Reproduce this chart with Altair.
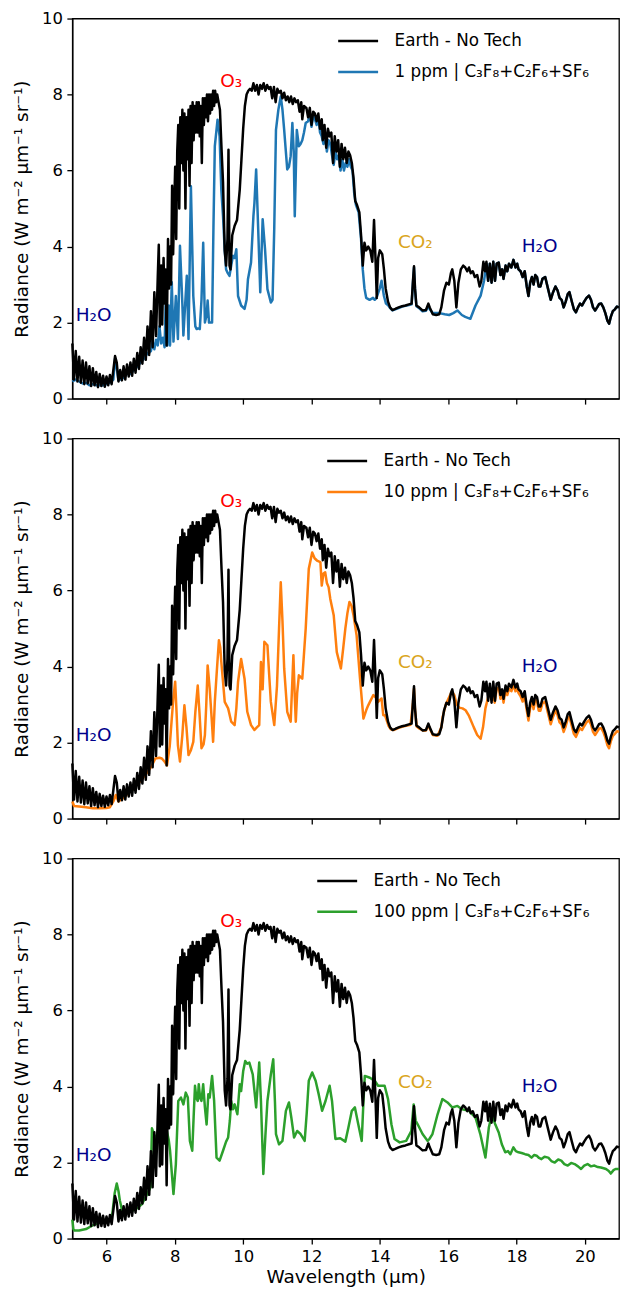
import altair as alt
import pandas as pd

# ---------------- data ----------------
earth_label = "Earth - No Tech"
tech_labels = ["1 ppm | C₃F₈+C₂F₆+SF₆", "10 ppm | C₃F₈+C₂F₆+SF₆", "100 ppm | C₃F₈+C₂F₆+SF₆"]
tech_colors = ["#1f77b4", "#ff7f0e", "#2ca02c"]
legend_x = [265, 254, 244]

earth_wl = [5.00, 5.05, 5.10, 5.15, 5.20, 5.25, 5.30, 5.35, 5.40, 5.45, 5.50, 5.55, 5.60, 5.65, 5.70, 5.75,
            5.80, 5.85, 5.90, 5.95, 6.00, 6.05, 6.10, 6.15, 6.20, 6.25, 6.30, 6.35, 6.40, 6.45, 6.50, 6.55,
            6.60, 6.65, 6.70, 6.75, 6.80, 6.85, 6.90, 6.95, 7.00, 7.05, 7.10, 7.15, 7.20, 7.25, 7.30, 7.35,
            7.40, 7.45, 7.50, 7.53, 7.56, 7.60, 7.63, 7.67, 7.70, 7.73, 7.76, 7.80, 7.83, 7.86, 7.89, 7.92,
            7.95, 7.98, 8.01, 8.04, 8.07, 8.10, 8.13, 8.16, 8.19, 8.22, 8.25, 8.28, 8.31, 8.34, 8.37, 8.40,
            8.43, 8.46, 8.49, 8.52, 8.55, 8.58, 8.61, 8.64, 8.67, 8.70, 8.73, 8.76, 8.79, 8.82, 8.85, 8.88,
            8.91, 8.94, 8.97, 9.00, 9.03, 9.06, 9.09, 9.12, 9.15, 9.18, 9.21, 9.24, 9.28, 9.32, 9.37, 9.41,
            9.46, 9.50, 9.54, 9.57, 9.60, 9.63, 9.68, 9.75, 9.82, 9.90, 9.95, 10.00, 10.05, 10.10, 10.15,
            10.20, 10.25, 10.30, 10.35, 10.40, 10.45, 10.50, 10.55, 10.60, 10.65, 10.70, 10.75, 10.80, 10.85,
            10.90, 10.95, 11.00, 11.05, 11.10, 11.15, 11.20, 11.25, 11.30, 11.35, 11.40, 11.45, 11.50, 11.55,
            11.60, 11.65, 11.70, 11.73, 11.78, 11.85, 11.90, 11.95, 12.00, 12.05, 12.10, 12.15, 12.20, 12.25,
            12.30, 12.33, 12.38, 12.43, 12.48, 12.53, 12.58, 12.63, 12.68, 12.73, 12.78, 12.83, 12.88, 12.93,
            12.98, 13.03, 13.08, 13.13, 13.18, 13.23, 13.28, 13.33, 13.40, 13.45, 13.50, 13.55, 13.60, 13.66,
            13.72, 13.78, 13.83, 13.88, 13.91, 13.95, 14.00, 14.07, 14.12, 14.17, 14.24, 14.30, 14.37, 14.45,
            14.55, 14.65, 14.75, 14.85, 14.93, 14.97, 15.00, 15.03, 15.07, 15.15, 15.25, 15.35, 15.42, 15.46,
            15.55, 15.65, 15.74, 15.80, 15.88, 15.95, 16.02, 16.08, 16.12, 16.18, 16.24, 16.30, 16.37, 16.44,
            16.50, 16.56, 16.61, 16.66, 16.72, 16.78, 16.85, 16.92, 16.97, 17.03, 17.08, 17.12, 17.17, 17.22,
            17.27, 17.32, 17.37, 17.42, 17.48, 17.53, 17.58, 17.62, 17.68, 17.73, 17.78, 17.85, 17.91, 17.97,
            18.02, 18.06, 18.12, 18.18, 18.24, 18.30, 18.35, 18.40, 18.45, 18.50, 18.55, 18.60, 18.65, 18.70,
            18.76, 18.84, 18.92, 19.00, 19.07, 19.14, 19.20, 19.26, 19.32, 19.38, 19.44, 19.50, 19.55, 19.62,
            19.68, 19.74, 19.80, 19.86, 19.92, 19.98, 20.05, 20.12, 20.18, 20.24, 20.30, 20.36, 20.42, 20.48,
            20.54, 20.60, 20.66, 20.71, 20.76, 20.82, 20.88, 20.94, 21.00]
earth_rad = [1.45, 0.50, 1.25, 0.45, 1.10, 0.42, 1.00, 0.38, 0.95, 0.40, 0.85, 0.33, 0.80, 0.35, 0.70, 0.30,
             0.65, 0.33, 0.60, 0.31, 0.58, 0.35, 0.62, 0.38, 0.75, 1.12, 0.95, 0.45, 0.75, 0.48, 0.85, 0.50,
             0.90, 0.58, 0.95, 0.60, 1.05, 0.68, 1.20, 0.78, 1.35, 0.92, 1.60, 1.02, 1.90, 1.15, 2.30, 1.35,
             2.80, 1.65, 3.20, 4.05, 1.90, 3.50, 1.95, 3.70, 2.50, 3.40, 1.40, 4.20, 2.90, 4.00, 3.00, 5.60,
             3.80, 5.00, 6.10, 4.20, 6.50, 7.20, 5.00, 7.40, 6.20, 7.60, 6.00, 7.50, 5.00, 7.40, 6.30, 7.60,
             5.60, 7.70, 6.20, 7.80, 6.80, 7.70, 7.00, 7.80, 7.00, 7.80, 6.90, 7.70, 6.20, 7.90, 7.20, 7.90,
             7.40, 8.00, 7.30, 8.00, 7.50, 8.00, 7.60, 8.10, 7.70, 8.10, 7.80, 8.00, 7.80, 7.60, 6.50, 5.70,
             3.90, 3.50, 4.20, 6.55, 3.50, 3.40, 4.30, 4.55, 4.70, 5.50, 6.30, 7.10, 7.70, 8.00, 8.10,
             8.15, 8.10, 8.30, 8.10, 8.25, 8.00, 8.25, 8.15, 8.30, 8.10, 8.25, 8.15, 8.20, 7.90,
             8.20, 7.80, 8.15, 8.05, 8.10, 7.90, 8.05, 7.85, 7.95, 7.80, 7.95, 7.75, 7.90, 7.80,
             7.85, 7.55, 7.80, 7.35, 7.70, 7.65, 7.40, 7.65, 7.20, 7.55, 7.50, 7.30, 7.50, 7.10,
             7.35, 6.80, 7.20, 6.60, 7.10, 6.90, 7.00, 6.20, 6.90, 6.50, 6.80, 6.10, 6.70, 6.30,
             6.60, 6.20, 6.50, 6.40, 6.20, 5.80, 5.20, 5.10, 4.90, 4.30, 3.50, 4.10, 3.90, 4.00,
             3.90, 3.60, 4.70, 3.50, 2.65, 3.70, 3.90, 3.80, 3.40, 2.90, 2.55, 2.40, 2.33, 2.36,
             2.40, 2.43, 2.45, 2.48, 2.50, 3.10, 3.48, 2.90, 2.45, 2.40, 2.32, 2.33, 2.50, 2.40,
             2.22, 2.20, 2.22, 2.40, 2.85, 3.05, 3.00, 3.30, 3.40, 3.10, 2.40, 3.05, 3.40, 3.50,
             3.45, 3.35, 3.45, 3.30, 3.35, 3.20, 3.25, 2.95, 3.10, 3.60, 3.35, 3.60, 3.10, 3.55,
             3.05, 3.60, 3.10, 3.55, 3.58, 3.25, 3.40, 3.15, 3.50, 3.35, 3.55, 3.45, 3.65, 3.45,
             3.55, 3.40, 3.35, 3.20, 3.35, 2.95, 2.70, 3.05, 3.20, 3.00, 3.25, 3.20, 2.95, 2.95,
             3.15, 3.20, 2.90, 2.60, 2.80, 2.95, 2.85, 2.65, 2.60, 2.40, 2.55, 2.75, 2.80, 2.55,
             2.35, 2.27, 2.40, 2.50, 2.45, 2.55, 2.65, 2.71, 2.60, 2.40, 2.32, 2.40, 2.49, 2.50,
             2.40, 2.25, 2.05, 1.97, 2.15, 2.30, 2.35, 2.42, 2.40]

# 1 ppm (own values up to 17.12 um; beyond that it lies on the Earth spectrum)
ppm1_wl = [5.00, 5.10, 5.20, 5.30, 5.40, 5.50, 5.60, 5.70, 5.80, 5.90, 6.00, 6.10, 6.20, 6.25, 6.30, 6.35,
           6.50, 6.60, 6.70, 6.80, 6.90, 7.00, 7.10, 7.20, 7.30, 7.35, 7.40, 7.45, 7.50, 7.55, 7.60, 7.65,
           7.70, 7.73, 7.78, 7.82, 7.86, 7.91, 7.96, 8.03, 8.09, 8.15, 8.22, 8.25, 8.35, 8.40, 8.47, 8.54,
           8.60, 8.64, 8.70, 8.73, 8.78, 8.83, 8.88, 8.93, 8.96, 9.00, 9.09, 9.13, 9.17, 9.25, 9.31, 9.36,
           9.41, 9.46, 9.50, 9.55, 9.60, 9.65, 9.70, 9.75, 9.80, 9.85, 9.94, 10.04, 10.10, 10.14, 10.23,
           10.30, 10.33, 10.38, 10.44, 10.50, 10.57, 10.64, 10.71, 10.81, 10.86, 10.91, 10.96, 11.03, 11.10,
           11.15, 11.20, 11.29, 11.34, 11.39, 11.44, 11.48, 11.51, 11.57, 11.63, 11.68, 11.73, 11.78, 11.83,
           11.90, 11.95, 12.00, 12.05, 12.10, 12.15, 12.20, 12.25, 12.30, 12.35, 12.40, 12.45, 12.50, 12.55,
           12.60, 12.65, 12.70, 12.75, 12.80, 12.85, 12.90, 12.95, 13.00, 13.05, 13.10, 13.15, 13.20, 13.25,
           13.30, 13.38, 13.45, 13.50, 13.55, 13.60, 13.70, 13.80, 13.85, 13.90, 14.00, 14.05, 14.12, 14.18,
           14.25, 14.30, 14.37, 14.45, 14.55, 14.65, 14.75, 14.85, 14.93, 14.97, 15.00, 15.03, 15.07, 15.15,
           15.25, 15.35, 15.42, 15.46, 15.55, 15.74, 15.90, 16.03, 16.15, 16.27, 16.40, 16.50, 16.65, 16.80,
           16.95, 17.05, 17.12]
ppm1_rad = [0.45, 0.50, 0.45, 0.40, 0.42, 0.35, 0.38, 0.35, 0.35, 0.35, 0.38, 0.42, 0.50, 1.05, 0.80, 0.48,
            0.55, 0.65, 0.65, 0.75, 0.85, 0.95, 1.05, 1.20, 1.25, 1.50, 1.30, 1.55, 1.40, 1.90, 1.45, 1.60,
            1.35, 2.45, 1.40, 2.45, 1.40, 3.06, 1.50, 2.70, 1.57, 4.02, 2.50, 1.66, 3.23, 1.57, 5.59, 2.70,
            1.90, 1.83, 1.85, 1.83, 2.60, 4.10, 2.00, 2.20, 2.58, 2.00, 2.00, 4.50, 6.64, 7.34, 6.90, 5.50,
            4.80, 3.90, 3.40, 3.30, 3.23, 3.50, 3.76, 3.70, 3.93, 2.70, 2.45, 2.36, 2.60, 3.14, 3.58,
            4.80, 5.15, 6.03, 4.45, 2.80, 4.72, 3.93, 2.88, 2.53, 2.60, 4.50, 7.07, 7.60, 7.95,
            7.60, 7.07, 6.03, 6.10, 6.38, 7.25, 6.50, 4.80, 7.07, 6.64, 6.70, 6.80, 7.00, 7.25,
            7.30, 7.50, 7.15, 7.45, 7.35, 7.20, 7.40, 7.00, 6.90, 6.70, 6.95, 6.50, 6.80, 6.70,
            6.40, 6.15, 6.50, 6.30, 6.40, 6.00, 6.30, 6.00, 6.20, 6.10, 6.30, 6.10, 6.00, 5.40,
            5.10, 4.90, 4.20, 3.40, 2.90, 2.65, 2.60, 2.65, 2.60, 2.65, 2.90, 3.10, 2.70, 2.50,
            2.45, 2.38, 2.32, 2.35, 2.38, 2.42, 2.44, 2.46, 2.48, 3.05, 3.45, 2.85, 2.43, 2.38,
            2.30, 2.31, 2.45, 2.35, 2.25, 2.25, 2.22, 2.20, 2.25, 2.32, 2.20, 2.15, 2.10, 2.45,
            2.71, 3.10, 3.55]

# 10 ppm
ppm10_wl = [5.00, 5.05, 5.20, 5.40, 5.60, 5.80, 6.00, 6.10, 6.20, 6.27, 6.35, 6.50, 6.75, 7.00, 7.14, 7.30,
            7.43, 7.55, 7.62, 7.70, 7.77, 7.85, 7.91, 7.96, 8.01, 8.05, 8.09, 8.15, 8.22, 8.28, 8.34, 8.40,
            8.47, 8.54, 8.60, 8.67, 8.72, 8.78, 8.84, 8.88, 8.92, 8.96, 9.02, 9.08, 9.12, 9.17, 9.23, 9.29,
            9.33, 9.36, 9.41, 9.46, 9.56, 9.65, 9.75, 9.80, 9.85, 9.94, 10.04, 10.12, 10.23, 10.33, 10.40,
            10.47, 10.52, 10.57, 10.62, 10.67, 10.71, 10.76, 10.81, 10.91, 10.99, 11.05, 11.10, 11.15, 11.20,
            11.29, 11.39, 11.47, 11.51, 11.54, 11.58, 11.63, 11.73, 11.83, 11.92, 12.02, 12.09, 12.16, 12.26,
            12.30, 12.35, 12.40, 12.45, 12.50, 12.55, 12.65, 12.74, 12.86, 12.93, 12.99, 13.05, 13.11, 13.17,
            13.23, 13.32, 13.42, 13.52, 13.60, 13.66, 13.71, 13.81, 13.91, 13.95, 14.05, 14.10, 14.15, 14.25,
            14.32, 14.40, 14.50, 14.60, 14.70, 14.80, 14.90, 14.97, 15.00, 15.03, 15.08, 15.15, 15.26, 15.35,
            15.42, 15.46, 15.55, 15.69, 15.80, 15.84, 15.93, 16.03, 16.11, 16.18, 16.25, 16.32, 16.42, 16.51,
            16.61, 16.75, 16.85, 16.95, 17.02, 17.09, 17.17, 17.24, 17.30, 17.36, 17.42, 17.48, 17.53, 17.58,
            17.62, 17.68, 17.73, 17.78, 17.85, 17.91, 17.97, 18.02, 18.06, 18.12, 18.18, 18.24, 18.30, 18.35,
            18.40, 18.45, 18.50, 18.55, 18.60, 18.65, 18.70, 18.76, 18.84, 18.92, 19.00, 19.07, 19.14, 19.20,
            19.26, 19.32, 19.38, 19.44, 19.50, 19.55, 19.62, 19.68, 19.74, 19.80, 19.86, 19.92, 19.98, 20.05,
            20.12, 20.18, 20.24, 20.30, 20.36, 20.42, 20.48, 20.54, 20.60, 20.66, 20.71, 20.76, 20.82, 20.88,
            20.94, 21.00]
ppm10_rad = [0.45, 0.33, 0.32, 0.30, 0.27, 0.27, 0.28, 0.30, 0.45, 0.62, 0.45, 0.55, 0.75, 1.00, 1.15, 1.35,
             1.58, 1.60, 1.58, 1.50, 1.40, 1.90, 2.63, 3.20, 3.60, 2.80, 1.93, 1.50, 2.20, 2.98, 2.40, 1.67,
             1.80, 2.02, 2.80, 3.50, 2.80, 1.85, 1.95, 2.20, 3.00, 4.03, 3.42, 2.60, 2.02, 3.07, 3.90, 4.69,
             4.50, 4.12, 3.60, 3.07, 2.90, 2.55, 2.46, 2.90, 3.60, 4.20, 3.68, 2.81, 2.46, 2.33, 2.40,
             2.46, 4.12, 3.40, 4.65, 4.60, 4.56, 3.80, 3.07, 2.46, 3.50, 5.00, 6.22, 5.20, 3.95,
             2.81, 2.55, 4.30, 3.20, 2.55, 3.30, 3.77, 3.68, 5.00, 6.57, 7.00, 6.85, 6.79, 6.75,
             6.13, 6.45, 6.48, 6.20, 6.09, 5.78, 5.35, 4.38, 3.95, 4.50, 5.00, 5.40, 5.70, 5.60,
             5.35, 4.82, 3.68, 2.63, 2.85, 2.98, 3.07, 3.25, 3.16, 3.07, 3.16, 2.72, 2.72, 2.45,
             2.35, 2.33, 2.37, 2.40, 2.43, 2.45, 2.47, 3.05, 3.42, 2.85, 2.42, 2.37, 2.32, 2.32,
             2.47, 2.37, 2.20, 2.18, 2.40, 2.68, 3.00, 3.20, 3.35, 3.25, 3.00, 2.92, 2.90, 2.85,
             2.70, 2.40, 2.20, 2.10, 2.40, 2.90, 3.20, 3.33, 3.40, 3.05, 3.40, 3.45, 3.15, 3.30,
             3.05, 3.38, 3.25, 3.42, 3.35, 3.52, 3.35, 3.42, 3.30, 3.22, 3.08, 3.22, 2.85, 2.58,
             2.92, 3.08, 2.88, 3.12, 3.08, 2.84, 2.84, 3.03, 3.08, 2.78, 2.48, 2.68, 2.84, 2.73,
             2.53, 2.48, 2.28, 2.43, 2.63, 2.68, 2.43, 2.23, 2.15, 2.28, 2.38, 2.33, 2.43, 2.53,
             2.59, 2.48, 2.28, 2.20, 2.28, 2.37, 2.38, 2.28, 2.13, 1.93, 1.85, 2.03, 2.18, 2.23,
             2.30, 2.28]

# 100 ppm
ppm100_wl = [5.00, 5.03, 5.07, 5.20, 5.40, 5.60, 5.80, 6.00, 6.10, 6.17, 6.24, 6.30, 6.35, 6.39, 6.46, 6.60,
             6.75, 6.90, 7.04, 7.15, 7.29, 7.33, 7.45, 7.55, 7.65, 7.75, 7.82, 7.86, 7.96, 8.03, 8.10, 8.18,
             8.25, 8.32, 8.38, 8.44, 8.51, 8.55, 8.59, 8.63, 8.67, 8.70, 8.74, 8.78, 8.83, 8.88, 8.93, 8.98,
             9.02, 9.09, 9.15, 9.22, 9.31, 9.41, 9.50, 9.56, 9.61, 9.65, 9.70, 9.75, 9.83, 9.90, 9.94, 10.00,
             10.06, 10.12, 10.18, 10.28, 10.38, 10.47, 10.52, 10.59, 10.65, 10.71, 10.81, 10.88, 10.93, 10.96,
             11.05, 11.15, 11.25, 11.34, 11.41, 11.49, 11.58, 11.68, 11.80, 11.86, 11.92, 12.02, 12.12, 12.21,
             12.31, 12.41, 12.53, 12.60, 12.70, 12.84, 12.99, 13.08, 13.18, 13.27, 13.37, 13.47, 13.52, 13.56,
             13.71, 13.85, 13.95, 14.14, 14.24, 14.34, 14.43, 14.58, 14.77, 14.92, 14.99, 15.05, 15.11, 15.25,
             15.40, 15.45, 15.54, 15.69, 15.83, 15.98, 16.12, 16.27, 16.41, 16.61, 16.80, 16.94, 17.09, 17.19,
             17.28, 17.38, 17.48, 17.57, 17.67, 17.75, 17.82, 17.91, 17.98, 18.06, 18.15, 18.25, 18.35, 18.44,
             18.52, 18.59, 18.66, 18.73, 18.82, 18.93, 19.02, 19.12, 19.22, 19.31, 19.40, 19.50, 19.60, 19.70,
             19.80, 19.89, 19.98, 20.08, 20.18, 20.28, 20.38, 20.47, 20.55, 20.62, 20.70, 20.76, 20.84, 20.90,
             21.00]
ppm100_rad = [0.50, 0.25, 0.21, 0.21, 0.25, 0.35, 0.42, 0.45, 0.50, 0.65, 1.20, 1.45, 1.25, 1.00, 0.73, 0.70,
              0.73, 0.80, 0.91, 1.10, 1.35, 2.90, 2.60, 3.00, 2.70, 2.90, 2.60, 2.31, 1.17, 1.96, 3.62, 3.71,
              3.53, 3.84, 3.71, 2.57, 2.31, 3.20, 4.02, 3.70, 3.62, 4.06, 3.70, 3.62, 4.06, 3.45, 3.00, 3.80,
              3.71, 4.28, 3.62, 2.13, 2.05, 2.31, 2.55, 2.66, 3.10, 3.62, 3.40, 3.53, 3.27, 4.06, 3.88, 4.40,
              4.67, 4.60, 4.63, 4.32, 3.45, 4.63, 3.62, 1.70, 2.70, 3.62, 4.32, 4.72, 3.60, 2.75,
              2.48, 2.57, 3.36, 3.58, 3.18, 2.66, 2.83, 2.75, 2.57, 3.30, 4.15, 4.37, 4.15, 3.80,
              3.36, 3.62, 4.02, 3.62, 2.62, 2.64, 2.55, 2.92, 3.36, 3.45, 3.00, 2.57, 3.60, 4.28,
              4.23, 4.15, 4.02, 4.02, 3.67, 3.00, 2.62, 2.53, 2.57, 2.83, 3.53, 3.10, 3.00, 2.75,
              2.57, 2.62, 2.75, 3.27, 3.67, 3.58, 3.45, 3.49, 3.40, 3.36, 3.18, 2.75, 2.13, 2.92,
              3.27, 3.00, 2.79, 2.48, 2.27, 2.30, 2.22, 2.40, 2.30, 2.27, 2.25, 2.22, 2.20, 2.13,
              2.20, 2.18, 2.12, 2.09, 2.15, 2.13, 2.04, 2.00, 2.08, 2.05, 1.96, 1.92, 1.99, 1.96,
              1.90, 1.83, 1.92, 1.96, 1.90, 1.92, 1.88, 1.87, 1.85, 1.83, 1.78, 1.71, 1.80, 1.83,
              1.83]

# annotations (data coordinates)
ann_wl = [5.10, 9.33, 14.53, 18.15]
ann_rad = [2.05, 8.20, 3.97, 3.85]
ann_text = ["H₂O", "O₃", "CO₂", "H₂O"]
ann_color = ["#00008b", "#ff0000", "#daa520", "#00008b"]

x_ticks = [6, 8, 10, 12, 14, 16, 18, 20]
y_ticks = [0, 2, 4, 6, 8, 10]

FONT = "DejaVu Sans"
LW = 2.5

earth_df = pd.DataFrame({"wl": earth_wl, "rad": earth_rad, "series": earth_label})
ann_df = pd.DataFrame({"wl": ann_wl, "rad": ann_rad, "text": ann_text, "color": ann_color})

tail = earth_df[earth_df["wl"] > 17.12]
tech_frames = [
    pd.concat([pd.DataFrame({"wl": ppm1_wl, "rad": ppm1_rad}), tail[["wl", "rad"]]], ignore_index=True),
    pd.DataFrame({"wl": ppm10_wl, "rad": ppm10_rad}),
    pd.DataFrame({"wl": ppm100_wl, "rad": ppm100_rad}),
]


def panel(i):
    label = tech_labels[i]
    bottom = i == 2
    tech_df = tech_frames[i].copy()
    tech_df["series"] = label
    if bottom:
        xaxis = alt.Axis(values=x_ticks, format="d", title="Wavelength (μm)", grid=False)
    else:
        xaxis = alt.Axis(values=x_ticks, labels=False, title=None, grid=False)
    x = alt.X("wl:Q", scale=alt.Scale(domain=[5, 21], nice=False, zero=False), axis=xaxis)
    y = alt.Y("rad:Q", scale=alt.Scale(domain=[0, 10], nice=False),
              axis=alt.Axis(values=y_ticks, format="d", title="Radiance (W m⁻² μm⁻¹ sr⁻¹)", grid=False))
    col = alt.Color(
        "series:N",
        scale=alt.Scale(domain=[earth_label, label], range=["#000000", tech_colors[i]]),
        legend=alt.Legend(
            title=None, orient="none", legendX=legend_x[i], legendY=1, padding=0,
            labelFontSize=16.8, labelFont=FONT, labelColor="black", labelLimit=400,
            symbolType="stroke", symbolSize=1600, symbolStrokeWidth=LW,
            labelOffset=15, rowPadding=0,
        ),
    )
    tech_line = alt.Chart(tech_df).mark_line(strokeWidth=LW, strokeJoin="round").encode(
        x=x, y=y, color=col)
    earth_line = alt.Chart(earth_df).mark_line(strokeWidth=LW, strokeJoin="round").encode(
        x=x, y=y, color=col)
    text = alt.Chart(ann_df).mark_text(align="left", baseline="alphabetic", fontSize=18.5, font=FONT).encode(
        x=x, y=y, text="text:N", fill=alt.Fill("color:N", scale=None))
    return alt.layer(tech_line, earth_line, text).properties(width=548, height=381)


panels = [panel(i) for i in range(3)]

chart = (
    alt.vconcat(*panels, spacing=40, bounds="flush")
    .resolve_scale(color="independent")
    .resolve_legend(color="independent")
    .properties(padding={"left": 3.5, "top": 0, "right": 0, "bottom": 0})
    .configure_axis(
        domainColor="black", domainWidth=1.3, tickColor="black", tickWidth=1.3, tickSize=5.5,
        labelFontSize=16.5, labelFont=FONT, labelColor="black", labelPadding=4.5,
        titleFontSize=18.5, titleFont=FONT, titleFontWeight="normal", titleColor="black", grid=False,
    )
    .configure_axisY(titlePadding=10)
    .configure_axisX(titlePadding=3)
    .configure_view(stroke="black", strokeWidth=1.3)
)

chart.save("out.html", embed_options={"renderer": "svg", "actions": False})
